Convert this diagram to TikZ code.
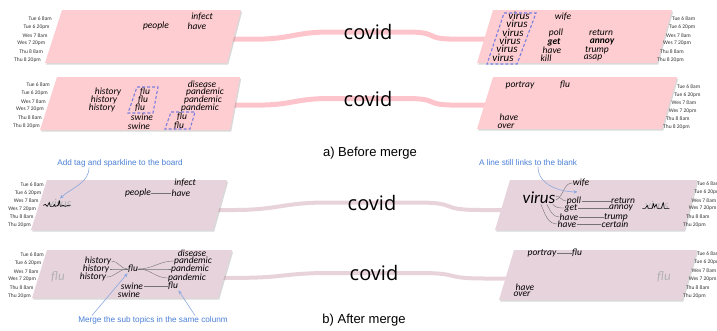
\documentclass[tikz,border=0pt]{standalone}
\usepackage{fontspec}
\setmainfont{Carlito}
\newfontfamily\topicfont{Open Sans}
\newfontfamily\notefont{Liberation Sans}
\usetikzlibrary{arrows.meta,calc,shadows,backgrounds}
\definecolor{boardpink}{HTML}{FDCDD1}
\definecolor{boardmauve}{HTML}{E7D3DB}
\definecolor{streampink}{HTML}{FDC5CB}
\definecolor{streammauve}{HTML}{E9D3DB}
\definecolor{tagblue}{HTML}{7B7FDF}
\definecolor{noteblue}{HTML}{4A7FD6}
\definecolor{notesky}{HTML}{8CA9E0}
\definecolor{inkgrey}{HTML}{333333}
\tikzset{
  board/.style={fill=boardpink, drop shadow={shadow xshift=1.2pt, shadow yshift=-1.6pt, opacity=0.3}},
  boardmerged/.style={board, fill=boardmauve},
  stream/.style={line width=5pt, draw=streampink},
  streammerged/.style={line width=4pt, draw=streammauve},
  topic/.style={font=\fontsize{20}{20}\topicfont, inner sep=0pt},
  word/.style={font=\fontsize{9.5}{9.5}\selectfont\itshape, inner sep=0.3pt},
  wordbold/.style={word, font=\fontsize{9.5}{9.5}\selectfont\itshape\bfseries},
  wordvirus/.style={word, font=\fontsize{11}{11}\selectfont\itshape},
  wordbig/.style={word, font=\fontsize{17}{17}\selectfont\itshape},
  ghost/.style={font=\fontsize{12}{12}\selectfont\itshape, text=black!30, inner sep=0pt},
  stamp/.style={font=\fontsize{5.5}{5.5}\selectfont, text=inkgrey, inner sep=0pt},
  tagbox/.style={draw=tagblue, line width=1.1pt, dash pattern=on 3pt off 2pt},
  wordlink/.style={draw=black!55, line width=0.4pt},
  sparkline/.style={draw=black, line width=0.6pt, line join=round},
  notetext/.style={font=\fontsize{8.2}{8.2}\notefont, text=noteblue, inner sep=0.5pt},
  noteline/.style={-{Stealth[length=4pt,width=3.5pt]}, draw=notesky, line width=0.6pt},
  subcap/.style={font=\fontsize{13}{13}\notefont, inner sep=0pt},
}

\begin{document}
\begin{tikzpicture}[x=1pt, y=-1pt]
  \useasboundingbox (0,0) rectangle (717,330);

  % ---------- a) before merge ----------
  \path[board] (62,10) coordinate (b1nw) -- (241,10) coordinate (b1ne) -- (227,63) coordinate (b1se) -- (45,63) coordinate (b1sw) -- cycle;
  \path[board] (493,10) coordinate (b2nw) -- (672,10) coordinate (b2ne) -- (657,63) coordinate (b2se) -- (477,63) coordinate (b2sw) -- cycle;
  \path[board] (57,77) coordinate (b3nw) -- (240,77) coordinate (b3ne) -- (230,130) coordinate (b3se) -- (40,130) coordinate (b3sw) -- cycle;
  \path[board] (493,77) coordinate (b4nw) -- (677,77) coordinate (b4ne) -- (662,129) coordinate (b4se) -- (477,129) coordinate (b4sw) -- cycle;

  % time stamps
  \foreach \lbl [count=\i from 0] in {Tue 6 8am, Tue 6 20pm, Wes 7 8am, Wes 7 20pm, Thu 8 8am, Thu 8 20pm} {
    \node[stamp, anchor=east] (s1-\i) at (52-2.2*\i, 19+8.2*\i) {\lbl};
    \node[stamp, anchor=west] (s2-\i) at (672-3*\i, 19+8.2*\i) {\lbl};
    \node[stamp, anchor=east] (s3-\i) at (50-2*\i, 85+8.2*\i) {\lbl};
    \node[stamp, anchor=west] (s4-\i) at (677-2.8*\i, 87+8*\i) {\lbl};
  }

  \node[word] (w1people) at (156,26) {people};
  \node[word] (w1infect) at (202,17) {infect};
  \node[word] (w1have) at (197,26) {have};

  \foreach \y/\x [count=\i] in {16/519, 24/517, 33/513, 41/510, 49/507, 58/503}
    \node[wordvirus] (w2virus\i) at (\x,\y) {virus};
  \draw[tagbox] (504,13) -- (536,13) -- (517,64) -- (487,64) -- cycle;
  \node[word] (w2wife) at (563,17) {wife};
  \node[word] (w2poll) at (556,33) {poll};
  \node[wordbold] (w2get) at (554,42) {get};
  \node[word] (w2have) at (552,50) {have};
  \node[word] (w2kill) at (546,58) {kill};
  \node[word] (w2return) at (601,33) {return};
  \node[wordbold] (w2annoy) at (602,42) {annoy};
  \node[word] (w2trump) at (597,50) {trump};
  \node[word] (w2asap) at (593,58) {asap};

  \foreach \y/\x [count=\i] in {92/108, 100/104, 108/102}
    \node[word] (w3history\i) at (\x,\y) {history};
  \foreach \y/\x [count=\i] in {92/145, 100/143, 108/140}
    \node[word] (w3flu\i) at (\x,\y) {flu};
  \draw[tagbox] (137,87) -- (158,87) -- (153,113) -- (128,113) -- cycle;
  \node[word] (w3swine1) at (142,117) {swine};
  \node[word] (w3swine2) at (139,126) {swine};
  \node[word] (w3disease) at (202,84) {disease};
  \foreach \y/\x [count=\i] in {92/205, 100/203, 108/200}
    \node[word] (w3pandemic\i) at (\x,\y) {pandemic};
  \node[word] (w3flu4) at (182,117) {flu};
  \node[word] (w3flu5) at (179,126) {flu};
  \draw[tagbox] (171,112) -- (195,112) -- (190,129) -- (165,129) -- cycle;

  \node[word] (w4portray) at (520,85) {portray};
  \node[word] (w4flu) at (565,85) {flu};
  \node[word] (w4have) at (509,117) {have};
  \node[word] (w4over) at (506,126) {over};

  \node[topic] (c1) at (368,32) {covid};
  \node[topic] (c2) at (368,98.5) {covid};
  \node[subcap] (capa) at (370,153) {a) Before merge};

  % ---------- b) after merge ----------
  \path[boardmerged] (47,180) coordinate (b5nw) -- (227,180) coordinate (b5ne) -- (213,230) coordinate (b5se) -- (31,230) coordinate (b5sw) -- cycle;
  \path[boardmerged] (510,180) coordinate (b6nw) -- (697,180) coordinate (b6ne) -- (684,230) coordinate (b6se) -- (495,230) coordinate (b6sw) -- cycle;
  \path[boardmerged] (47,250) coordinate (b7nw) -- (232,250) coordinate (b7ne) -- (218,298) coordinate (b7se) -- (32,298) coordinate (b7sw) -- cycle;
  \path[boardmerged] (514,250) coordinate (b8nw) -- (697,250) coordinate (b8ne) -- (682,300) coordinate (b8se) -- (499,300) coordinate (b8sw) -- cycle;

  \foreach \lbl [count=\i from 0] in {Tue 6 8am, Tue 6 20pm, Wes 7 8am, Wes 7 20pm, Thu 8 8am, Thu 20pm} {
    \node[stamp, anchor=east] (s5-\i) at (44-2.6*\i, 185+8*\i) {\lbl};
    \node[stamp, anchor=west] (s6-\i) at (697-2.8*\i, 184+8.2*\i) {\lbl};
    \node[stamp, anchor=east] (s7-\i) at (44-2.6*\i, 255+8.2*\i) {\lbl};
    \node[stamp, anchor=west] (s8-\i) at (697-2.8*\i, 254+8.4*\i) {\lbl};
  }

  % board with the new tag
  \node[ghost] (g5virus) at (60,203) {virus};
  \draw[sparkline] ([xshift=-5pt,yshift=2pt]g5virus.south west) -- ++(2,-1) -- ++(2,2) -- ++(2,-4) -- ++(1,4) -- ++(3,0) -- ++(1,-2) -- ++(1,2) -- ++(3,-1) -- ++(1,-5) -- ++(1,6) -- ++(3,-1) -- ++(2,1) -- ++(3,-1) -- ++(2,0);
  \node[word] (w5infect) at (185,183) {infect};
  \node[word] (w5people) at (138,193) {people};
  \node[word] (w5have) at (181,193) {have};
  \draw[wordlink] (w5people) -- (w5have);

  \node[wordbig] (v6virus) at (539,198) {virus};
  \node[word] (v6wife) at (581,183) {wife};
  \node[word] (v6poll) at (574,201) {poll};
  \node[word] (v6get) at (571,208) {get};
  \node[word] (v6have) at (569,217) {have};
  \node[word] (v6havelow) at (567,224) {have};
  \node[word] (v6return) at (623,201) {return};
  \node[word] (v6annoy) at (621,208) {annoy};
  \node[word] (v6trump) at (616,217) {trump};
  \node[word] (v6certain) at (615,224) {certain};
  \coordinate (v6gap) at ($(v6wife.south)!0.5!(v6poll.north)$);
  \draw[wordlink] ([yshift=-2pt]v6virus.east) to[out=25,in=180] (v6wife.west);
  \draw[wordlink] ([yshift=2pt]v6virus.east) to[out=-5,in=180] (v6poll.west);
  \draw[wordlink] ([xshift=-3pt]v6virus.south east) to[out=-50,in=180] (v6get.west);
  \draw[wordlink] ([xshift=-9pt]v6virus.south east) to[out=-60,in=180] (v6have.west);
  \draw[wordlink] ([xshift=-15pt]v6virus.south east) to[out=-65,in=180] (v6havelow.west);
  \draw[wordlink] (v6poll) -- (v6return);
  \draw[wordlink] (v6get) -- (v6annoy);
  \draw[wordlink] (v6have) -- (v6trump);
  \draw[wordlink] (v6havelow) -- (v6certain);
  \node[ghost] (g6virus) at (657,205) {virus};
  \draw[sparkline] ([xshift=-3pt,yshift=1pt]g6virus.south west) -- ++(3,0) -- ++(2,-3) -- ++(1,3) -- ++(4,0) -- ++(1,-5) -- ++(1,4) -- ++(2,-3) -- ++(1,4) -- ++(4,0) -- ++(2,-6) -- ++(1,6) -- ++(5,0);

  \node[ghost, font=\fontsize{13}{13}\selectfont\itshape] (g7flu) at (58,277) {flu};
  \foreach \y/\x [count=\i] in {261/98, 269/96, 277/93}
    \node[word] (w7history\i) at (\x,\y) {history};
  \node[word] (w7flu) at (133,269) {flu};
  \node[word] (w7swine1) at (132,286) {swine};
  \node[word] (w7swine2) at (129,294) {swine};
  \node[word] (w7disease) at (192,253) {disease};
  \foreach \y/\x [count=\i] in {261/193, 269/190, 278/187}
    \node[word] (w7pandemic\i) at (\x,\y) {pandemic};
  \node[word] (w7flub) at (173,286) {flu};
  \foreach \i in {1,2,3} {
    \draw[wordlink] (w7history\i.east) to[out=0,in=180] (w7flu.west);
    \draw[wordlink] (w7flu.east) to[out=0,in=180] (w7pandemic\i.west);
  }
  \draw[wordlink] (w7swine1) -- (w7flub);

  \node[word] (w8portray) at (542,253) {portray};
  \node[word] (w8flu) at (577,253) {flu};
  \node[word] (w8have) at (525,287) {have};
  \node[word] (w8over) at (522,294) {over};
  \draw[wordlink] (w8portray) -- (w8flu);
  \node[ghost, font=\fontsize{13}{13}\selectfont\itshape] (g8flu) at (664,277) {flu};

  \node[topic] (c3) at (372,202.5) {covid};
  \node[topic] (c4) at (374,273) {covid};
  \node[subcap] (capb) at (364,320) {b) After merge};

  % notes
  \node[notetext] (n5add) at (120,163) {Add tag and sparkline to the board};
  \draw[noteline] ([xshift=-31pt]n5add.south) .. controls +(0,16) and +(10,-10) .. (g5virus.north);
  \node[notetext] (n6line) at (528,163) {A line still links to the blank};
  \draw[noteline] ([xshift=10pt]n6line.south) .. controls +(0,18) and +(-18,0) .. (v6gap);
  \node[notetext] (n7merge) at (153,320) {Merge the sub topics in the same colunm};
  \draw[noteline] ([xshift=-61pt]n7merge.north) -- (w7flu.south west);
  \draw[noteline] ([xshift=42pt]n7merge.north) -- (w7flub.south east);

  % streams run under the boards
  \begin{scope}[on background layer]
    \draw[stream] ($(b1ne)!0.55!(b1se)+(-5,0)$) -- ++(28,0) .. controls +(35,0) and +(-35,0) .. ([xshift=-14pt]c1.west) -- ([xshift=14pt]c1.east) .. controls +(35,0) and +(-35,0) .. ($(b2nw)!0.55!(b2sw)+(-28,0)$) -- ($(b2nw)!0.55!(b2sw)+(5,0)$);
    \draw[stream] ($(b3ne)!0.53!(b3se)+(-5,0)$) -- ++(28,0) .. controls +(35,0) and +(-35,0) .. ([xshift=-14pt]c2.west) -- ([xshift=14pt]c2.east) .. controls +(35,0) and +(-35,0) .. ($(b4nw)!0.54!(b4sw)+(-28,0)$) -- ($(b4nw)!0.54!(b4sw)+(5,0)$);
    \draw[streammerged] ($(b5ne)!0.6!(b5se)+(-5,0)$) -- ++(20,0) .. controls +(45,0) and +(-45,0) .. ([xshift=-20pt]c3.west) -- ([xshift=20pt]c3.east) .. controls +(45,0) and +(-45,0) .. ($(b6nw)!0.6!(b6sw)+(-20,0)$) -- ($(b6nw)!0.6!(b6sw)+(5,0)$);
    \draw[streammerged] ($(b7ne)!0.58!(b7se)+(-5,0)$) -- ++(20,0) .. controls +(45,0) and +(-45,0) .. ([xshift=-20pt]c4.west) -- ([xshift=20pt]c4.east) .. controls +(45,0) and +(-45,0) .. ($(b8nw)!0.57!(b8sw)+(-20,0)$) -- ($(b8nw)!0.57!(b8sw)+(5,0)$);
  \end{scope}
\end{tikzpicture}
\end{document}
